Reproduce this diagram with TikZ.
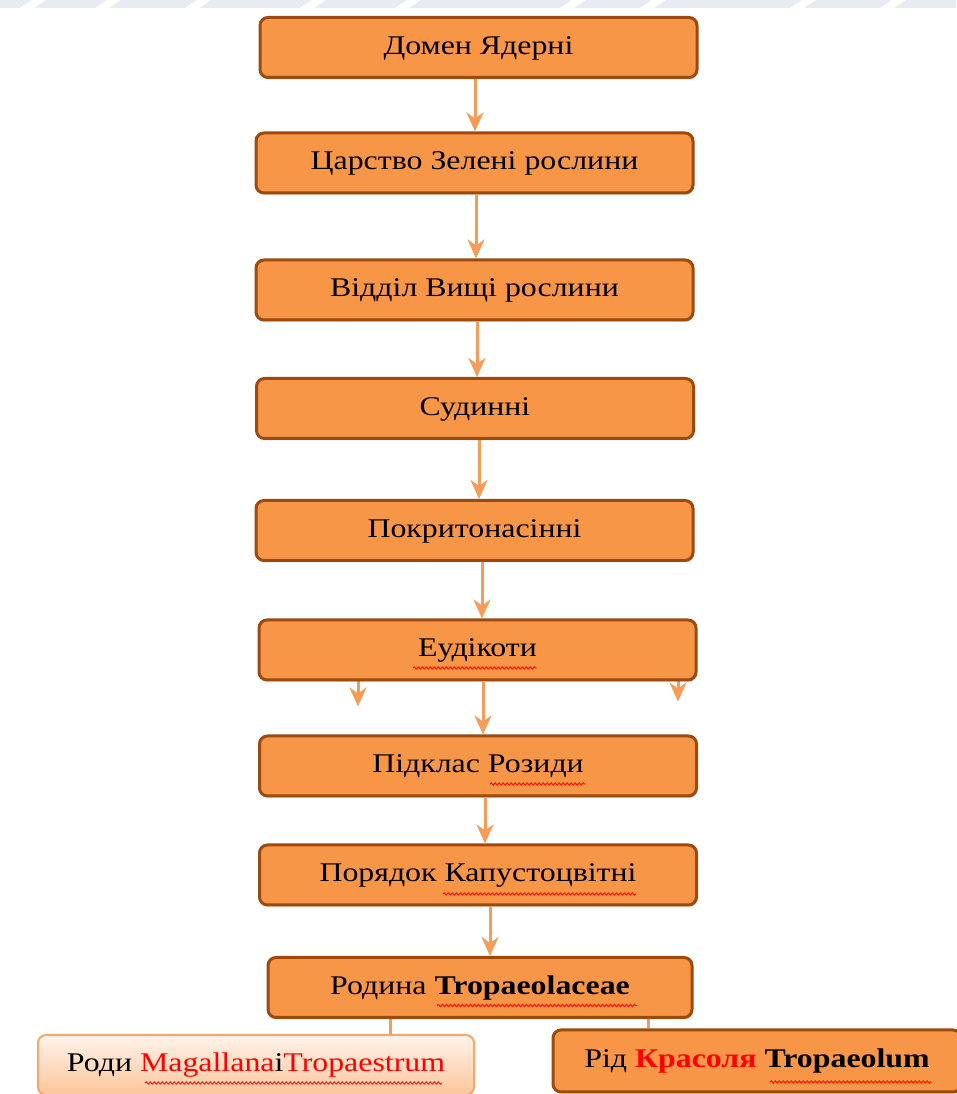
\documentclass[tikz,border=0pt]{standalone}
\usepackage{fontspec}
\setmainfont{Liberation Serif}[FakeStretch=1.18]
\usepackage{xcolor}
\usepackage{tikz}
\usetikzlibrary{shapes,arrows,positioning,calc,decorations.pathmorphing,arrows.meta,backgrounds,shadows}

\definecolor{boxfill}{HTML}{F79646}
\definecolor{boxline}{HTML}{9C4A0E}
\definecolor{arrowcol}{HTML}{F59C58}
\definecolor{leafline}{HTML}{F5A76E}
\definecolor{leaftop}{HTML}{FFF3EA}
\definecolor{leafbot}{HTML}{FBC59A}
\definecolor{wmgray}{HTML}{E8EBF1}

\tikzset{
    taxon/.style={draw=boxline, line width=3pt, fill=boxfill, rounded corners=8pt,
        minimum width=437pt, minimum height=60pt, inner sep=0pt,
        text height=19pt, text depth=5pt,
        font=\fontsize{27}{32}\selectfont,
        drop shadow={opacity=0.25, shadow xshift=1pt, shadow yshift=-2pt}},
    leaf/.style={draw=leafline, line width=2pt, top color=leaftop, bottom color=leafbot,
        rounded corners=8pt, minimum width=436pt, minimum height=60pt, inner sep=0pt,
        text height=19pt, text depth=5pt,
        font=\fontsize{27}{32}\selectfont},
    down/.style={draw=arrowcol, line width=3pt, -{Stealth[length=19pt,width=17pt,inset=6pt]}},
    link/.style={draw=arrowcol, line width=3pt},
    spell/.style={draw=red, line width=0.8pt, decorate,
        decoration={snake, amplitude=1.2pt, segment length=4pt}}
}

\begin{document}
\begin{tikzpicture}[x=1pt,y=1pt]
    \useasboundingbox (0,0) rectangle (956,1094);

    % Watermark strip
    \fill[wmgray] (0,1086) rectangle (956,1094);
    \foreach \x in {20,95,185,300,395,560,640,790,880}
        \fill[white] (\x,1086) -- (\x+14,1086) -- (\x+26,1094) -- (\x+12,1094) -- cycle;

    % Taxonomy chain
    \foreach \i/\x/\y/\txt in {1/478.5/47.5/{Домен Ядерні},
                               2/474.5/163/{Царство Зелені рослини},
                               3/474.5/290/{Відділ Вищі рослини},
                               4/475/408.5/{Судинні},
                               5/474.5/530.5/{Покритонасінні},
                               6/477.5/650/{Еудікоти},
                               7/478/766/{Підклас Розиди},
                               8/478/875/{Порядок Капустоцвітні}}
        \node [taxon] (b\i) at (\x,1094-\y) {\txt};
    \node [taxon, minimum width=424pt] (b9) at (480,1094-987.5)
        {Родина \textbf{Tropaeolaceae}};

    % Genera
    \node [leaf] (b10) at (256,1094-1065)
        {Роди \textcolor{red}{Magallana}i\textcolor{red}{Tropaestrum}};
    \node [taxon, minimum width=408pt, minimum height=62pt] (b11) at (757,1094-1061)
        {Рід \textcolor{red}{\textbf{Красоля}} \textbf{Tropaeolum}};

    % Arrows
    \foreach \i/\j/\dx/\ex in {1/2/-3.5/0.5, 2/3/1.5/1.5, 3/4/2.5/2, 4/5/4/4.5,
                               5/6/7.5/4.5, 6/7/5.5/5, 7/8/7/7, 8/9/12/10}
        \draw [down] ([xshift=\dx]b\i.south) -- ([xshift=\ex]b\j.north);

    % Hidden arrows below Eudicots
    \begin{scope}[on background layer]
        \draw [down] ([xshift=-119.5]b6.center) -- ([xshift=-119.5,yshift=-25]b6.south);
        \draw [down] ([xshift=200.5]b6.center) -- ([xshift=200.5,yshift=-20]b6.south);
        \draw [link] ([xshift=-90]b9.south) -- ([xshift=134]b10.north);
        \draw [link] ([xshift=168]b9.south) -- ([xshift=-109]b11.north);
    \end{scope}

    % Spelling marks
    \draw [spell] ([xshift=-64.5,yshift=-18]b6.center) -- ++(124,0);
    \draw [spell] ([xshift=12,yshift=-18]b7.center) -- ++(95,0);
    \draw [spell] ([xshift=-35,yshift=-19]b8.center) -- ++(193,0);
    \draw [spell] ([xshift=-43,yshift=-18]b9.center) -- ++(200,0);
    \draw [spell] ([xshift=-111,yshift=-18]b10.center) -- ++(297,0);
    \draw [spell] ([xshift=13,yshift=-21]b11.center) -- ++(162,0);
\end{tikzpicture}
\end{document}
